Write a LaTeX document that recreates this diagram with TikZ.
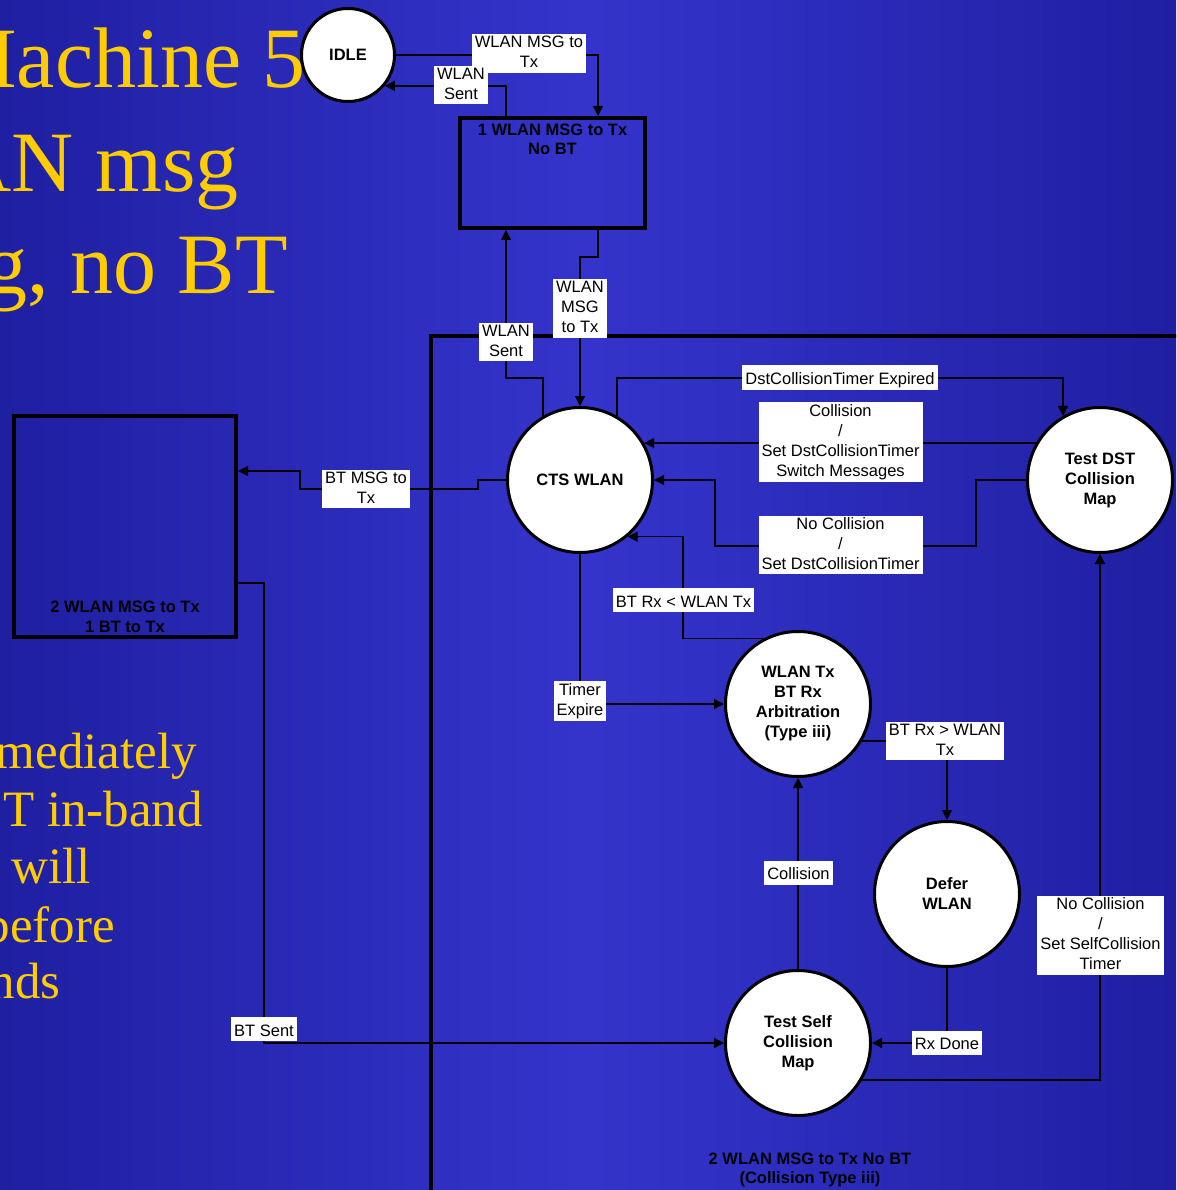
\documentclass[tikz,border=0pt]{standalone}
\usepackage{fontspec}
\setmainfont{Liberation Sans}
\newfontfamily\titlefont{Liberation Serif}
\usetikzlibrary{arrows.meta}

\definecolor{bgedge}{RGB}{31,31,162}
\definecolor{bgmid}{RGB}{52,52,204}
\definecolor{titleyellow}{RGB}{255,204,0}

% fixed-height line strut for the transition labels
\newcommand{\lblstrut}{\rule[-3pt]{0pt}{20pt}}

\tikzset{
  state/.style={circle, draw=black, line width=3pt, fill=white,
    minimum size=145pt, inner sep=0pt, align=center,
    font=\fontsize{16.5}{20}\selectfont\bfseries},
  smallstate/.style={state, minimum size=93pt},
  superstate/.style={rectangle, draw=black, line width=4pt, inner sep=0pt},
  boxtext/.style={align=center, inner sep=0pt, text=black,
    font=\fontsize{16.5}{19.5}\selectfont\bfseries},
  arr/.style={line width=1.3pt, draw=black,
    -{Triangle[length=10pt,width=10pt]}},
  lbl/.style={fill=white, text=black, inner xsep=3pt, inner ysep=2pt,
    align=center, font=\fontsize{16.5}{20}\selectfont,
    execute at begin node=\lblstrut, execute at end node=\lblstrut},
  heading/.style={anchor=base east, inner sep=0pt, text=titleyellow,
    font=\titlefont\fontsize{86}{100}\selectfont},
  bodytext/.style={anchor=base east, inner sep=0pt, text=titleyellow,
    font=\titlefont\fontsize{51}{58}\selectfont},
}

\begin{document}
\begin{tikzpicture}[x=1pt,y=-1pt]
\useasboundingbox (0,0) rectangle (1176,1190);
\clip (0,0) rectangle (1176,1190);

% slide background
\shade[left color=bgedge, right color=bgedge, middle color=bgmid]
  (0,0) rectangle (1176,1190);

% slide heading and body text
\node[heading] (h1) at (306,88) {Machine 5};
\node[heading] (h2) at (239,192) {AN msg};
\node[heading] (h3) at (288,293) {g, no BT};
\node[bodytext] (b1) at (197,768) {mediately};
\node[bodytext] (b2) at (203,826) {T in-band};
\node[bodytext] (b3) at (91,883) {will};
\node[bodytext] (b4) at (115,942) {before};
\node[bodytext] (b5) at (61,998) {nds};

% enclosing super-state
\draw[line width=4pt] (431,1205) -- (431,336) -- (1200,336);
\node[boxtext] (supercap) at (810,1170)
  {2 WLAN MSG to Tx No BT\\(Collision Type iii)};

% outer super-states
\node[superstate, minimum width=185pt, minimum height=110pt]
  (box1) at (552.5,173) {};
\node[boxtext] (box1cap) at (552.5,139.5) {1 WLAN MSG to Tx\\No BT};
\node[superstate, minimum width=222pt, minimum height=221pt]
  (box2) at (125,526.5) {};
\node[boxtext] (box2cap) at (125,617) {2 WLAN MSG to Tx\\1 BT to Tx};

% states
\node[smallstate] (idle) at (348,55) {IDLE};
\node[state] (cts) at (580,480) {CTS WLAN};
\node[state] (dst) at (1100,480) {Test DST\\Collision\\Map};
\node[state] (arb) at (798,704) {WLAN Tx\\BT Rx\\Arbitration\\(Type iii)};
\node[state] (defer) at (947,894) {Defer\\WLAN};
\node[state] (self) at (798,1043) {Test Self\\Collision\\Map};

% routing points
\coordinate (k1) at (598,0);
\coordinate (k2) at (506,0);
\coordinate (k3) at (598,257);
\coordinate (k4) at (506,378);
\coordinate (k5) at (0,378);
\coordinate (k7a) at (976,546);
\coordinate (k7b) at (715,546);
\coordinate (k8) at (683,0);
\coordinate (k14) at (264,583);
\coordinate (k15a) at (478,489);
\coordinate (k15b) at (300,471);

% transitions
\draw[arr] (idle.east) -| (k1 |- box1.north);
\draw[arr] (k2 |- box1.north) |- (idle.-40);
\draw[arr] (k3 |- box1.south) -- (k3) -| (cts.north);
\draw[arr] (cts.120) |- (k4) -- (k4 |- box1.south);
\draw[arr] (cts.60) -- (cts.60 |- k5) -| (dst.120);
\draw[arr] (dst.150) -- (cts.30);
\draw[arr] (dst.west) -| (k7a) -- (k7b) |- (cts.east);
\draw[arr] (arb.118.6) -| (k8 |- cts.-50) -- (cts.-50);
\draw[arr] (cts.south) |- (arb.west);
\draw[arr] (arb.-30) -| (defer.north);
\draw[arr] (self.north) -- (arb.south);
\draw[arr] (defer.south) |- (self.east);
\draw[arr] (self.-30) -| (dst.south);
\draw[arr] (box2.east |- k14) -- (k14) |- (self.west);
\draw[arr] (cts.west) -| (k15a) -| (k15b) -- (box2.east |- k15b);

% transition labels
\node[lbl] (l1) at (529,53.5) {WLAN MSG to\\Tx};
\node[lbl] (l2) at (461,85) {WLAN\\Sent};
\node[lbl] (l3) at (580,308.5) {WLAN\\MSG\\to Tx};
\node[lbl] (l4) at (506,342) {WLAN\\Sent};
\node[lbl] (l5) at (840,377.5) {DstCollisionTimer Expired};
\node[lbl] (l6) at (840.5,442) {Collision\\/\\Set DstCollisionTimer\\Switch Messages};
\node[lbl] (l7) at (840.5,545) {No Collision\\/\\Set DstCollisionTimer};
\node[lbl] (l8) at (683.5,600) {BT Rx < WLAN Tx};
\node[lbl] (l9) at (580,701) {Timer\\Expire};
\node[lbl] (l10) at (945,741) {BT Rx > WLAN\\Tx};
\node[lbl] (l11) at (798.5,872.5) {Collision};
\node[lbl] (l12) at (1100.5,935.5) {No Collision\\/\\Set SelfCollision\\Timer};
\node[lbl] (l13) at (947,1042.5) {Rx Done};
\node[lbl] (l14) at (264,1029) {BT Sent};
\node[lbl] (l15) at (366,489) {BT MSG to\\Tx};
\end{tikzpicture}
\end{document}
